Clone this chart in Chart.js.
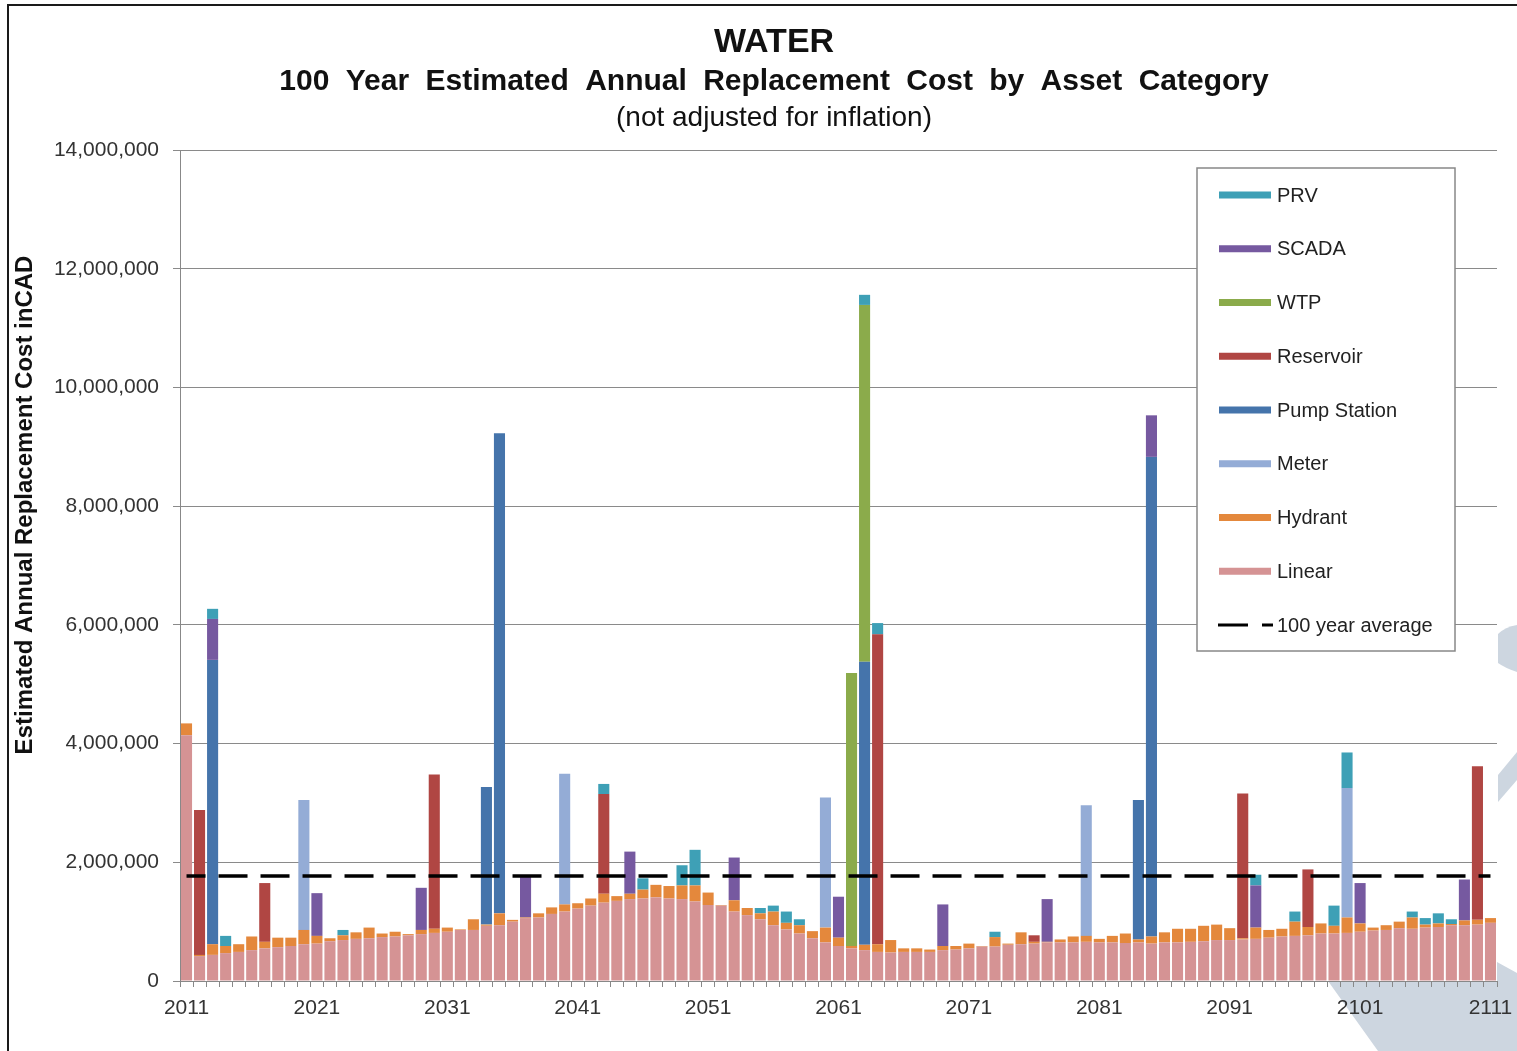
<!DOCTYPE html>
<html>
<head>
<meta charset="utf-8">
<script src="https://cdn.jsdelivr.net/npm/chart.js@4.4.1/dist/chart.umd.min.js"></script>
<style>
  html, body { margin: 0; padding: 0; background: #fff; }
  #wrap { position: relative; width: 1517px; height: 1051px; }
</style>
</head>
<body>
<div id="wrap"><canvas id="water-chart" width="1517" height="1051"></canvas></div>
<script>
// Years on the x axis, 2011 to 2111
let years = []
for (let y = 2011; y <= 2111; y++) years.push(String(y))

// Linear and hydrant cost for every year (CAD)
let linear = [
    4140000, 420000, 440000, 470000, 490000, 520000, 550000, 570000, 590000, 620000,
    630000, 670000, 690000, 710000, 720000, 740000, 750000, 770000, 790000, 810000,
    830000, 860000, 860000, 930000, 940000, 1000000, 1060000, 1070000, 1130000, 1170000,
    1220000, 1270000, 1320000, 1350000, 1380000, 1390000, 1410000, 1390000, 1380000, 1340000,
    1280000, 1270000, 1170000, 1110000, 1040000, 940000, 870000, 800000, 720000, 650000,
    590000, 550000, 520000, 490000, 480000, 490000, 490000, 490000, 520000, 530000,
    550000, 580000, 580000, 610000, 620000, 630000, 650000, 650000, 650000, 660000,
    650000, 650000, 640000, 650000, 630000, 650000, 650000, 660000, 670000, 690000,
    690000, 700000, 710000, 730000, 750000, 760000, 770000, 800000, 800000, 810000,
    830000, 850000, 860000, 890000, 880000, 900000, 910000, 940000, 940000, 950000, 980000
]
let hydrant = [
    200000, 20000, 180000, 120000, 130000, 230000, 110000, 160000, 140000, 240000,
    130000, 50000, 80000, 110000, 180000, 60000, 80000, 20000, 70000, 70000,
    70000, 10000, 180000, 20000, 200000, 30000, 10000, 70000, 110000, 120000,
    90000, 120000, 150000, 80000, 90000, 150000, 210000, 210000, 230000, 270000,
    210000, 10000, 190000, 120000, 100000, 230000, 110000, 140000, 120000, 250000,
    140000, 40000, 90000, 130000, 210000, 60000, 60000, 40000, 70000, 60000,
    80000, 10000, 160000, 20000, 200000, 30000, 10000, 50000, 100000, 100000,
    60000, 110000, 160000, 50000, 120000, 170000, 230000, 220000, 260000, 260000,
    200000, 20000, 190000, 130000, 130000, 240000, 140000, 170000, 130000, 260000,
    140000, 50000, 80000, 110000, 190000, 50000, 60000, 20000, 80000, 80000, 80000
]

// The other categories only show up in a few years (year: CAD)
let meter = { 2020: 2190000, 2040: 2200000, 2060: 2190000, 2080: 2200000, 2100: 2180000 }
let pumpStation = { 2013: 4790000, 2034: 2320000, 2035: 8090000, 2063: 4770000, 2084: 2350000, 2085: 8080000 }
let reservoir = { 2012: 2440000, 2017: 990000, 2030: 2600000, 2043: 1680000, 2064: 5220000,
    2076: 110000, 2092: 2440000, 2097: 970000, 2110: 2590000 }
let wtp = { 2062: 4600000, 2063: 6010000 }
let scada = { 2013: 690000, 2021: 720000, 2029: 710000, 2037: 690000, 2045: 710000, 2053: 720000,
    2061: 690000, 2069: 700000, 2077: 720000, 2085: 700000, 2093: 710000, 2101: 680000, 2109: 690000 }
let prv = { 2013: 170000, 2014: 170000, 2023: 90000, 2043: 170000, 2046: 190000, 2049: 340000,
    2050: 600000, 2055: 90000, 2056: 100000, 2057: 190000, 2058: 100000, 2063: 170000, 2064: 190000,
    2073: 90000, 2093: 180000, 2096: 170000, 2099: 340000, 2100: 600000, 2105: 100000, 2106: 110000,
    2107: 170000, 2108: 80000 }

let hundredYearAverage = 1770000

let yTicks = [0, 2000000, 4000000, 6000000, 8000000, 10000000, 12000000, 14000000]

// Turn a {year: value} list into one value per year
function perYear(list) {
    return years.map(function(y) { return list[y] || 0 })
}

// Stack order, bottom to top
let series = [
    { label: 'Linear', data: linear, color: '#d59394' },
    { label: 'Hydrant', data: hydrant, color: '#e4883c' },
    { label: 'Meter', data: perYear(meter), color: '#94acd6' },
    { label: 'Pump Station', data: perYear(pumpStation), color: '#4574ab' },
    { label: 'Reservoir', data: perYear(reservoir), color: '#b04643' },
    { label: 'WTP', data: perYear(wtp), color: '#8bab4b' },
    { label: 'SCADA', data: perYear(scada), color: '#7659a0' },
    { label: 'PRV', data: perYear(prv), color: '#3ea0b6' }
]

let font = '"Liberation Sans", Arial, sans-serif'

let datasets = series.map(function(s) {
    return {
        type: 'bar',
        label: s.label,
        data: s.data,
        backgroundColor: s.color,
        borderWidth: 0,
        barPercentage: 0.85,
        categoryPercentage: 1.0,
        stack: 'cost',
        order: 2
    }
})
datasets.push({
    type: 'line',
    label: '100 year average',
    data: years.map(function() { return hundredYearAverage }),
    borderColor: '#000',
    borderWidth: 3.5,
    borderDash: [29, 13],
    borderDashOffset: 10,
    pointRadius: 0,
    fill: false,
    stack: 'avg',
    order: 1
})

// Page background, frame and the faint logo shapes behind the chart
let backdrop = {
    id: 'backdrop',
    beforeDraw: function(chart) {
        let ctx = chart.ctx
        let area = chart.chartArea
        ctx.save()
        ctx.fillStyle = '#fff'
        ctx.fillRect(0, 0, chart.width, chart.height)
        ctx.fillStyle = '#cdd6e0'
        ctx.beginPath()
        ctx.moveTo(1328, 981); ctx.lineTo(1378, 1051); ctx.lineTo(1517, 1051)
        ctx.lineTo(1517, 973); ctx.lineTo(1497, 962); ctx.lineTo(1497, 981)
        ctx.closePath(); ctx.fill()
        ctx.beginPath()
        ctx.moveTo(1498, 634); ctx.quadraticCurveTo(1505, 627, 1517, 625)
        ctx.lineTo(1517, 672); ctx.quadraticCurveTo(1505, 668, 1498, 663)
        ctx.closePath(); ctx.fill()
        ctx.beginPath()
        ctx.moveTo(1498, 775); ctx.lineTo(1517, 752); ctx.lineTo(1517, 780); ctx.lineTo(1498, 802)
        ctx.closePath(); ctx.fill()
        ctx.fillStyle = '#fff'
        ctx.fillRect(area.left, area.top, area.right - area.left, area.bottom - area.top)
        ctx.strokeStyle = '#1a1a1a'
        ctx.lineWidth = 2
        ctx.beginPath()
        ctx.moveTo(8, chart.height); ctx.lineTo(8, 5); ctx.lineTo(chart.width, 5)
        ctx.stroke()
        ctx.restore()
    }
}

// Three title lines and the rotated y axis title
let headings = {
    id: 'headings',
    afterDraw: function(chart) {
        let ctx = chart.ctx
        ctx.save()
        ctx.fillStyle = '#111'
        ctx.textAlign = 'center'
        ctx.textBaseline = 'middle'
        ctx.font = 'bold 34px ' + font
        ctx.fillText('WATER', 774, 43)
        ctx.font = 'bold 30px ' + font
        ctx.wordSpacing = '8px'
        ctx.fillText('100 Year Estimated Annual Replacement Cost by Asset Category', 774, 82)
        ctx.wordSpacing = '0px'
        ctx.font = '28px ' + font
        ctx.fillText('(not adjusted for inflation)', 774, 118)
        ctx.translate(25, 505)
        ctx.rotate(-Math.PI / 2)
        ctx.font = 'bold 24px ' + font
        ctx.fillText('Estimated Annual Replacement Cost inCAD', 0, 0)
        ctx.restore()
    }
}

// Boxed legend inside the plot, top entry first
let boxLegend = {
    id: 'boxLegend',
    afterDraw: function(chart) {
        let ctx = chart.ctx
        let sets = chart.data.datasets
        let bars = sets.filter(function(d) { return d.type === 'bar' }).reverse()
        let line = sets.filter(function(d) { return d.type === 'line' })[0]
        ctx.save()
        ctx.fillStyle = '#fff'
        ctx.fillRect(1197, 168, 258, 483)
        ctx.strokeStyle = '#888'
        ctx.lineWidth = 1.5
        ctx.strokeRect(1197, 168, 258, 483)
        ctx.font = '20px ' + font
        ctx.textBaseline = 'middle'
        ctx.textAlign = 'left'
        let y = 195
        bars.forEach(function(d) {
            ctx.fillStyle = d.backgroundColor
            ctx.fillRect(1219, y - 3.5, 52, 7)
            ctx.fillStyle = '#222'
            ctx.fillText(d.label, 1277, y + 1)
            y += 53.75
        })
        ctx.strokeStyle = line.borderColor
        ctx.lineWidth = 3
        ctx.beginPath()
        ctx.moveTo(1218, y); ctx.lineTo(1248, y)
        ctx.moveTo(1262, y); ctx.lineTo(1273, y)
        ctx.stroke()
        ctx.fillStyle = '#222'
        ctx.fillText(line.label, 1277, y + 1)
        ctx.restore()
    }
}

let canvas = document.querySelector('#water-chart')
let context = canvas.getContext('2d')

let waterChart = new Chart(context, {
    data: {
        labels: years,
        datasets: datasets
    },
    options: {
        responsive: false,
        animation: false,
        layout: { padding: { left: 0, right: 20, top: 150, bottom: 20 } },
        plugins: {
            legend: { display: false },
            title: { display: false },
            tooltip: { enabled: false }
        },
        scales: {
            x: {
                stacked: true,
                offset: true,
                grid: { offset: true, drawOnChartArea: false, color: '#888', tickLength: 6 },
                border: { color: '#888', width: 1 },
                ticks: {
                    autoSkip: false,
                    maxRotation: 0,
                    padding: 9,
                    color: '#333',
                    font: { family: font, size: 21 },
                    callback: function(value, index) {
                        return index % 10 === 0 ? years[index] : ''
                    }
                },
                afterFit: function(scale) {
                    scale.height = 50
                    scale.paddingLeft = 0
                    scale.paddingRight = 0
                }
            },
            y: {
                stacked: true,
                min: yTicks[0],
                max: yTicks[yTicks.length - 1],
                afterBuildTicks: function(scale) {
                    scale.ticks = yTicks.map(function(v) { return { value: v } })
                },
                grid: { color: '#8a8a8a', lineWidth: 1, tickLength: 7 },
                border: { color: '#888', width: 1 },
                ticks: {
                    padding: 14,
                    color: '#333',
                    font: { family: font, size: 21 },
                    callback: function(value) { return value.toLocaleString('en-US') }
                },
                afterFit: function(scale) { scale.width = 180 }
            }
        }
    },
    plugins: [backdrop, headings, boxLegend]
})
</script>
</body>
</html>
